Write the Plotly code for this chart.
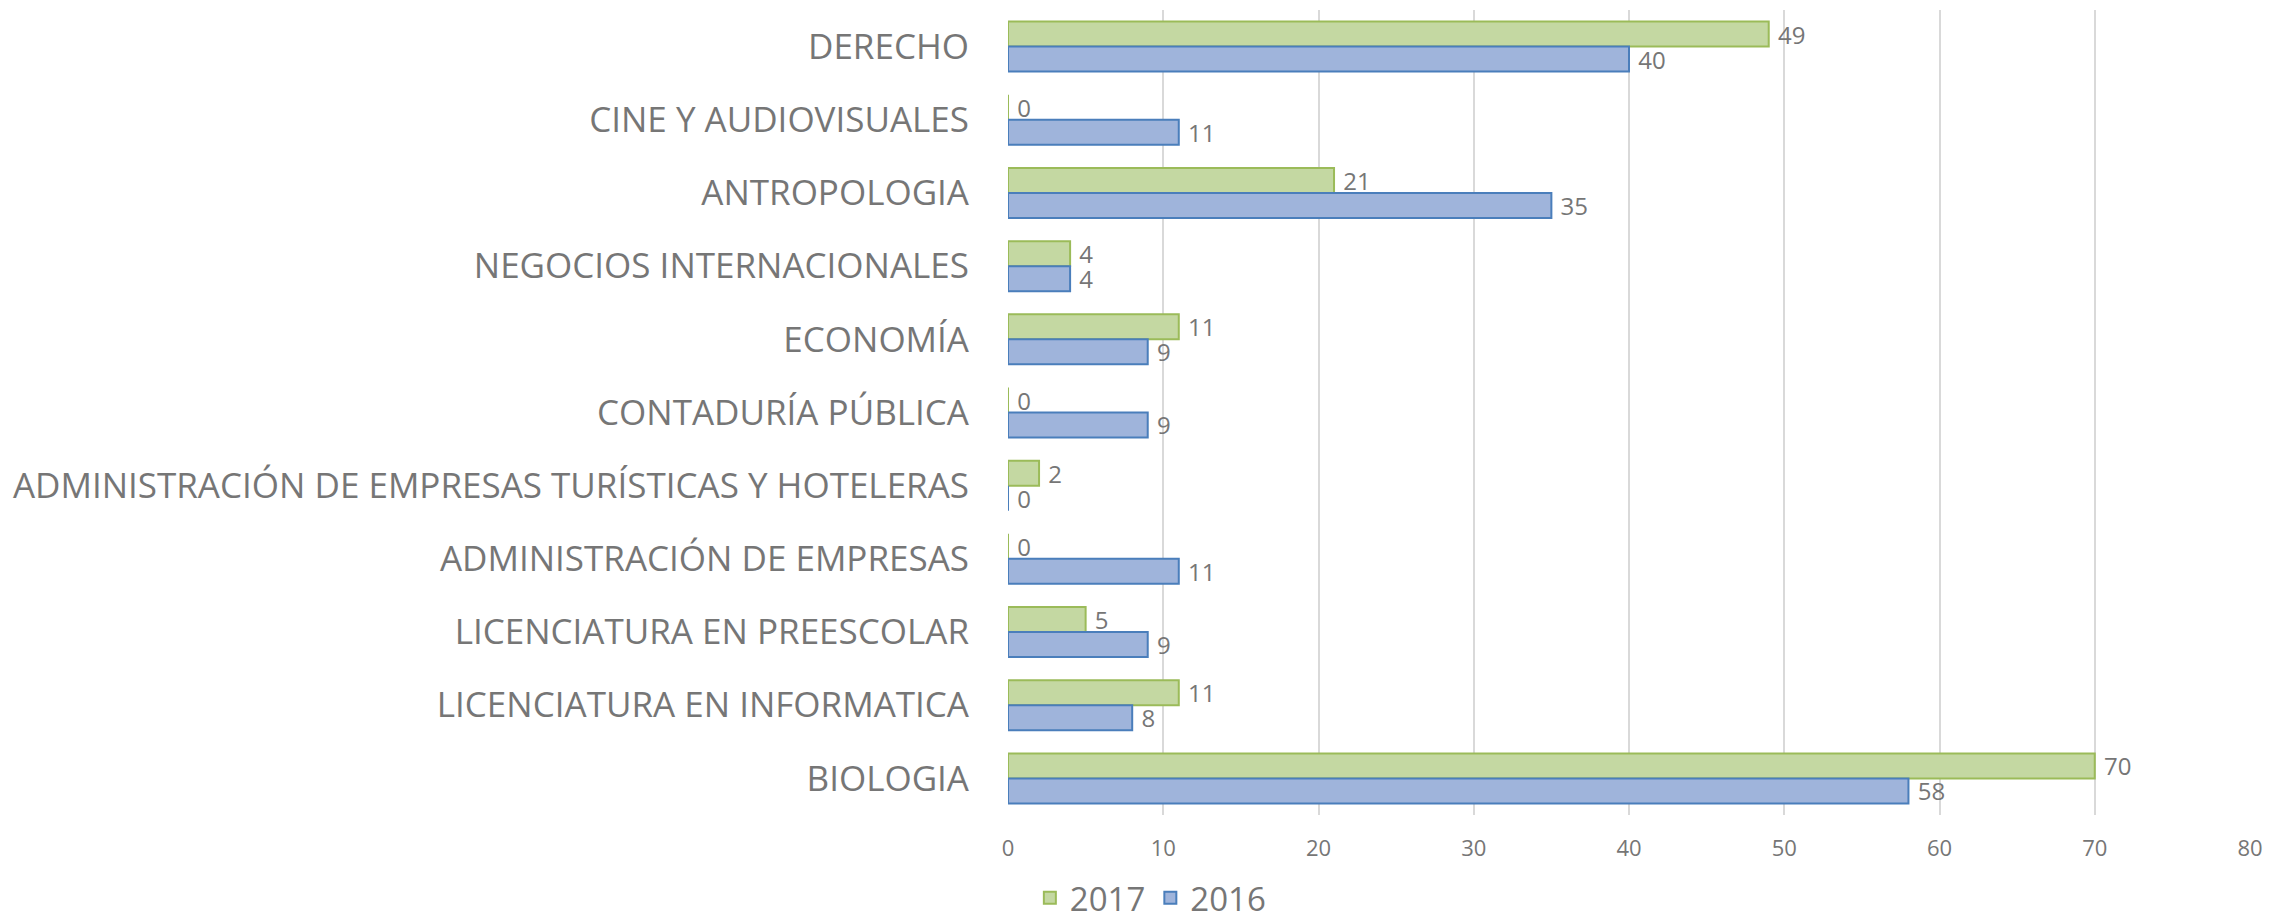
import plotly.graph_objects as go

categories = ["DERECHO", "CINE Y AUDIOVISUALES", "ANTROPOLOGIA", "NEGOCIOS INTERNACIONALES",
              "ECONOMÍA", "CONTADURÍA PÚBLICA",
              "ADMINISTRACIÓN DE EMPRESAS TURÍSTICAS Y HOTELERAS",
              "ADMINISTRACIÓN DE EMPRESAS", "LICENCIATURA EN PREESCOLAR",
              "LICENCIATURA EN INFORMATICA", "BIOLOGIA"]
values_2017 = [49, 0, 21, 4, 11, 0, 2, 0, 5, 11, 70]
values_2016 = [40, 11, 35, 4, 9, 9, 0, 11, 9, 8, 58]
x_ticks = [0, 10, 20, 30, 40, 50, 60, 70, 80]

FONT = "Open Sans, sans-serif"
GREY = "#767676"

fig = go.Figure()
fig.add_trace(go.Bar(
    name="2017", y=categories, x=values_2017, orientation="h",
    marker=dict(color="#c4d8a2", line=dict(color="#9bbb59", width=2)),
    text=[" " + str(v) for v in values_2017], textposition="outside", constraintext="none",
    textfont=dict(size=24, color=GREY, family=FONT), cliponaxis=False,
))
fig.add_trace(go.Bar(
    name="2016", y=categories, x=values_2016, orientation="h",
    marker=dict(color="#9fb4db", line=dict(color="#4a7ebb", width=2)),
    text=[" " + str(v) for v in values_2016], textposition="outside", constraintext="none",
    textfont=dict(size=24, color=GREY, family=FONT), cliponaxis=False,
))

fig.update_layout(
    width=2287, height=923,
    paper_bgcolor="white", plot_bgcolor="white",
    barmode="group", bargap=0.317, bargroupgap=0,
    margin=dict(l=1000, r=45, t=2, b=116, autoexpand=False),
    font=dict(family=FONT, color=GREY),
    legend=dict(orientation="h", xref="container", yref="container",
                x=0.4995, xanchor="center", y=0.036, yanchor="middle",
                font=dict(size=33, color=GREY, family=FONT)),
    xaxis=dict(range=[0, 80], tickvals=x_ticks, showgrid=True, gridcolor="#d9d9d9", gridwidth=2,
               zeroline=False, showline=False, tickfont=dict(size=22, color=GREY, family=FONT),
               ticks="", ticklabelstandoff=18, automargin=False),
    yaxis=dict(autorange="reversed", showgrid=False, zeroline=False, showline=False,
               tickfont=dict(size=35, color=GREY, family=FONT), ticks="", ticklabelstandoff=38,
               automargin=False),
    showlegend=True,
)

fig.write_html("out.html")
